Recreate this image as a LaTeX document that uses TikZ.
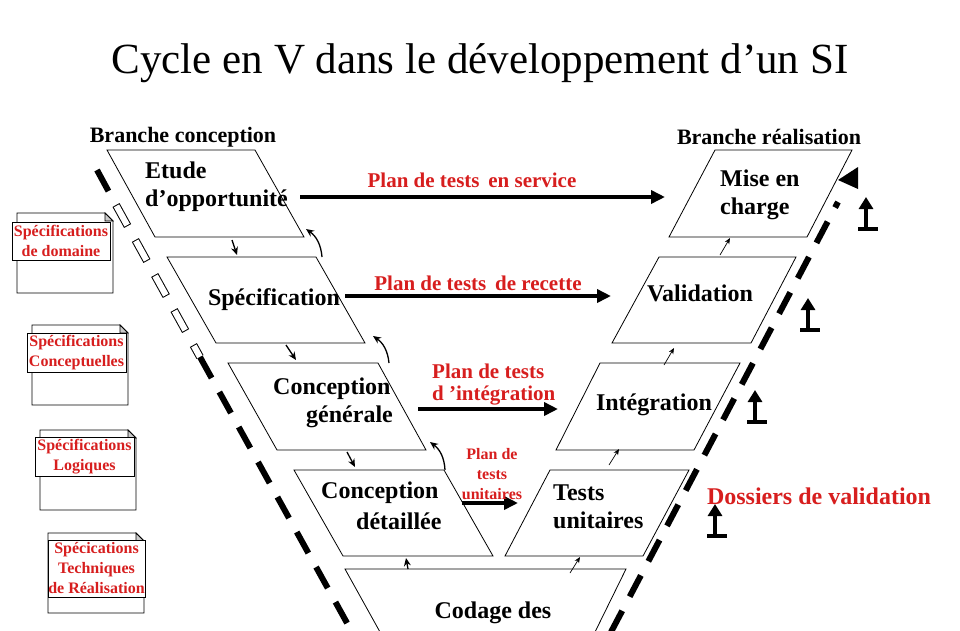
\documentclass[tikz,border=0pt]{standalone}
\usepackage{fontspec}
\setmainfont{Liberation Serif}
\usetikzlibrary{arrows.meta,calc}
\definecolor{rd}{RGB}{215,30,30}
\begin{document}
\begin{tikzpicture}[x=1pt,y=-1pt,
  box/.style={draw,line width=0.8pt,fill=white},
  bt/.style={font=\fontsize{24}{28}\selectfont\bfseries,align=left,inner sep=0},
  rt/.style={font=\fontsize{21}{25}\selectfont\bfseries,text=rd,inner sep=0},
  small/.style={-{Stealth[length=8pt,width=7pt]},line width=1.3pt},
  thinarr/.style={-{Stealth[length=6pt,width=5pt]},line width=0.7pt},
  plan/.style={-{Triangle[length=14pt,width=13pt]},line width=4pt},
  vdash/.style={line width=6pt,dash pattern=on 24pt off 16pt},
  doc/.style={draw,line width=0.8pt,fill=white},
  dt/.style={font=\fontsize{16}{20}\selectfont\bfseries,text=rd,align=center,inner sep=0}]
\useasboundingbox (0,0) rectangle (960,630);
\node[font=\fontsize{43}{50}\selectfont] (title) at (480,63) {Cycle en V dans le développement d’un SI};
\node[font=\fontsize{22}{26}\selectfont\bfseries] (bc) at (183,137) {Branche conception};
\node[font=\fontsize{22}{26}\selectfont\bfseries] (br) at (769,137) {Branche réalisation};
% dashed lines
\coordinate (l0) at (97,170); \coordinate (l1) at (116,205); \coordinate (l2) at (200,357); \coordinate (l3) at (352,632);
\draw[vdash] (l0) -- (l1);
\draw[line width=8pt,dash pattern=on 24pt off 16pt] (l1) -- (l2);
\draw[line width=6pt,white,dash pattern=on 22pt off 18pt,dash phase=-1pt] (l1) -- (l2);
\draw[vdash] (l2) -- (l3);
\coordinate (r0) at (611,632); \coordinate (r1) at (838,202);
\draw[vdash] (r0) -- (r1);
\coordinate (ra) at (838,180); \coordinate (rb) at (858,167); \coordinate (rc) at (858,189);
\fill (ra) -- (rb) -- (rc) -- cycle;
% left boxes
\draw[box] (107,150) -- (255,150) -- (304,237) -- (155,237) -- cycle;
\draw[box] (167,257) -- (316,257) -- (365,343) -- (216,343) -- cycle;
\draw[box] (228,363) -- (378,363) -- (426,450) -- (277,450) -- cycle;
\draw[box] (294,470) -- (444,470) -- (493,556) -- (343,556) -- cycle;
\draw[box] (345,569) -- (626,569) -- (595,632) -- (380,632) -- cycle;
% right boxes
\draw[box] (715,150) -- (852,150) -- (807,237) -- (669,237) -- cycle;
\draw[box] (659,257) -- (796,257) -- (751,343) -- (612,343) -- cycle;
\draw[box] (600,363) -- (740,363) -- (694,450) -- (556,450) -- cycle;
\draw[box] (550,470) -- (689,470) -- (643,556) -- (505,556) -- cycle;
% texts
\node[bt,anchor=west] (etude) at (145,187) {Etude\\d’opportunité};
\node[bt] (spec) at (274,300) {Spécification};
\node[bt,anchor=west] (cg1) at (273,389) {Conception};
\node[bt,anchor=west] (cg2) at (306,417) {générale};
\node[bt,anchor=west] (cd1) at (321,493) {Conception};
\node[bt,anchor=west] (cd2) at (356,521) {détaillée};
\node[bt] (cod) at (493,613) {Codage des};
\node[bt,anchor=west] (mise) at (720,195) {Mise en\\charge};
\node[bt] (val) at (700,293) {Validation};
\node[bt] (integ) at (654,405) {Intégration};
\node[bt,anchor=west] (tu) at (553,507) {Tests\\unitaires};
% small arrows left (down)
\coordinate (d1a) at (232,240); \coordinate (d1b) at (237,255);
\coordinate (d2a) at (286,345); \coordinate (d2b) at (296,360);
\coordinate (d3a) at (347,452); \coordinate (d3b) at (355,467);
\coordinate (d4a) at (406,558); \coordinate (d4b) at (408,569);
\draw[small] (d1a) -- (d1b); \draw[small] (d2a) -- (d2b); \draw[small] (d3a) -- (d3b); \draw[small] (d4b) -- (d4a);
% curved arrows up
\coordinate (u1a) at (322,257); \coordinate (u1b) at (306,229);
\coordinate (u2a) at (389,363); \coordinate (u2b) at (373,336);
\coordinate (u3a) at (445,470); \coordinate (u3b) at (430,442);
\draw[small] (u1a) to[bend right=25] (u1b);
\draw[small] (u2a) to[bend right=25] (u2b);
\draw[small] (u3a) to[bend right=25] (u3b);
% thin arrows right (up)
\coordinate (t1a) at (720,255); \coordinate (t1b) at (730,238);
\coordinate (t2a) at (664,365); \coordinate (t2b) at (674,348);
\coordinate (t3a) at (609,465); \coordinate (t3b) at (619,449);
\coordinate (t5a) at (570,573); \coordinate (t5b) at (580,557);
\draw[thinarr] (t1a) -- (t1b); \draw[thinarr] (t2a) -- (t2b); \draw[thinarr] (t3a) -- (t3b); \draw[thinarr] (t5a) -- (t5b);
% plan arrows
\coordinate (p1a) at (300,197); \coordinate (p1b) at (665,197);
\coordinate (p2a) at (345,296); \coordinate (p2b) at (611,296);
\coordinate (p3a) at (418,409); \coordinate (p3b) at (558,409);
\coordinate (p4a) at (462,503); \coordinate (p4b) at (518,503);
\draw[plan] (p1a) -- (p1b);
\draw[plan] (p2a) -- (p2b);
\draw[plan] (p3a) -- (p3b);
\draw[plan] (p4a) -- (p4b);
\node[rt] (l1t) at (472,180) {Plan de tests\, en service};
\node[rt] (l2t) at (478,283) {Plan de tests\, de recette};
\node[rt,anchor=west] (l3t) at (432,371) {Plan de tests};
\node[rt,anchor=west] (l3u) at (432,396) {d ’intégration};
\node[rt,font=\fontsize{16}{20}\selectfont\bfseries,align=center] (l4t) at (492,474) {Plan de\\tests\\unitaires};
\node[font=\fontsize{24}{28}\selectfont\bfseries,text=rd,inner sep=0] (dv) at (819,496) {Dossiers de validation};
% up markers
\foreach \n/\x/\y in {m1/866/229,m2/808/330,m3/755/422,m4/715/536}{
  \coordinate (\n) at (\x,\y);
  \draw[line width=4pt,-{Triangle[length=12pt,width=14pt]}] (\n) -- ++(0,-32);
  \draw[line width=4pt] ($(\n)+(-8,0)$) -- ++(20,0);
}
% documents
\foreach \n/\bx/\by/\fx/\fy/\fw/\fh/\t in {
  da/17/213/12/222/98/38/{Spécifications\\de domaine},
  db/32/325/27/333/99/39/{Spécifications\\Conceptuelles},
  dc/40/430/35/437/99/39/{Spécifications\\Logiques},
  dd/48/533/48/540/97/57/{Spécications\\Techniques\\de Réalisation}}{
  \draw[doc] (\bx,\by) -- ++(88,0) -- ++(8,8) -- ++(0,72) -- ++(-96,0) -- cycle;
  \draw[doc,fill=gray!40] (\bx+88,\by) -- ++(8,8) -- ++(-8,0) -- cycle;
  \draw[doc] (\fx,\fy) rectangle ++(\fw,\fh);
  \node[dt] (\n) at (\fx+\fw/2,\fy+\fh/2) {\t};
}
\end{tikzpicture}
\end{document}
